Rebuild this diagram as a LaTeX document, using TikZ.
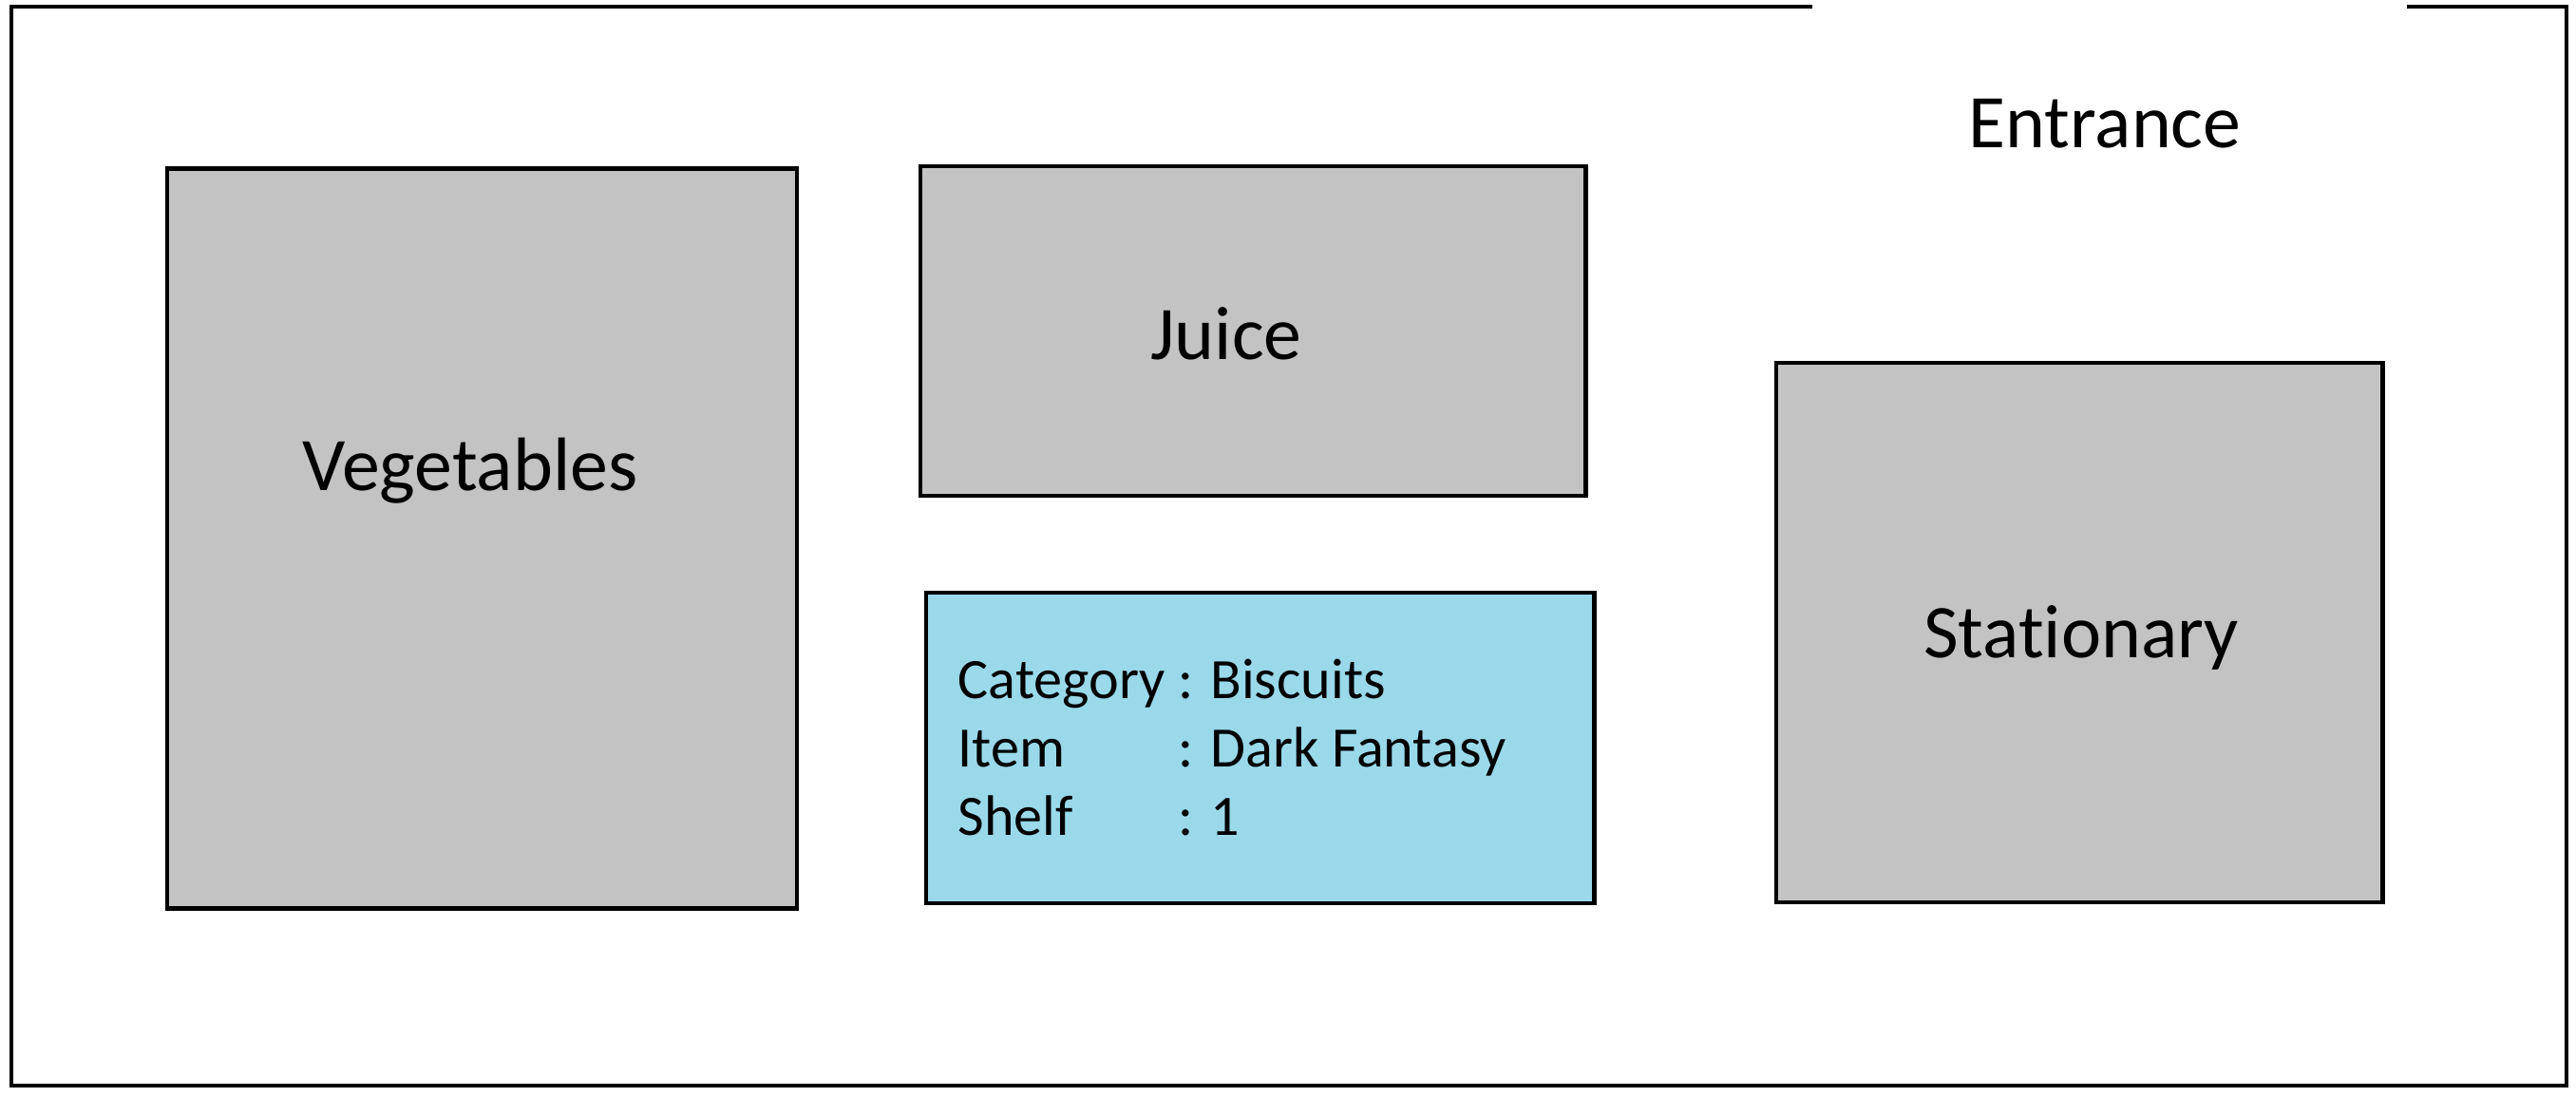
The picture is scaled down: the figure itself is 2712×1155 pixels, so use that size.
\documentclass[tikz,border=0pt]{standalone}
\usepackage{fontspec}
\setmainfont{Carlito}[Ligatures=NoCommon]
\definecolor{shelfgray}{RGB}{195,195,195}
\definecolor{shelfblue}{RGB}{153,217,234}

\begin{document}
\begin{tikzpicture}[
        x=0.01cm, y=-0.01cm,
        shelf/.style={
            draw,
            line width=1.3pt,
            fill=shelfgray,
            inner sep=0pt
        },
        shelfname/.style={
            font=\fontsize{22.7}{26}\selectfont,
            inner sep=0pt
        }
    ]
        \useasboundingbox (0,0) rectangle (2712,1155);

        % 外墙(右上角留出入口)
        \draw[line width=1.4pt] (1908,7) -- (12,7) -- (12,1143) -- (2702,1143) -- (2702,7) -- (2534,7);
        \node[shelfname] (entrance) at (2216,130) {Entrance};

        % 左边的货架
        \node[shelf, minimum width=6.63cm, minimum height=7.78cm] (veg) at (507.5,567) {};
        \node[shelfname] (veglbl) at (495,496) {Vegetables};

        % 中间两个货架
        \node[shelf, minimum width=7cm, minimum height=3.47cm] (juice) at (1319,348.5) {};
        \node[shelfname] (juicelbl) at (1291,351) {Juice};
        \node[shelf, fill=shelfblue, minimum width=7.03cm, minimum height=3.27cm] (biscuit) at (1326.5,787.5) {};
        \node[anchor=base west, inner sep=0pt, font=\fontsize{17.1}{20.5}\selectfont] (biscuitinfo) at (1008,735) {%
            \begin{tabular}[t]{@{}l@{\ }l@{}}
                Category & : Biscuits\\
                Item & : Dark Fantasy\\
                Shelf & : 1
            \end{tabular}};

        % 右边的货架
        \node[shelf, minimum width=6.38cm, minimum height=5.68cm] (stat) at (2189,666) {};
        \node[shelfname] (statlbl) at (2191,671) {Stationary};
    \end{tikzpicture}
\end{document}
